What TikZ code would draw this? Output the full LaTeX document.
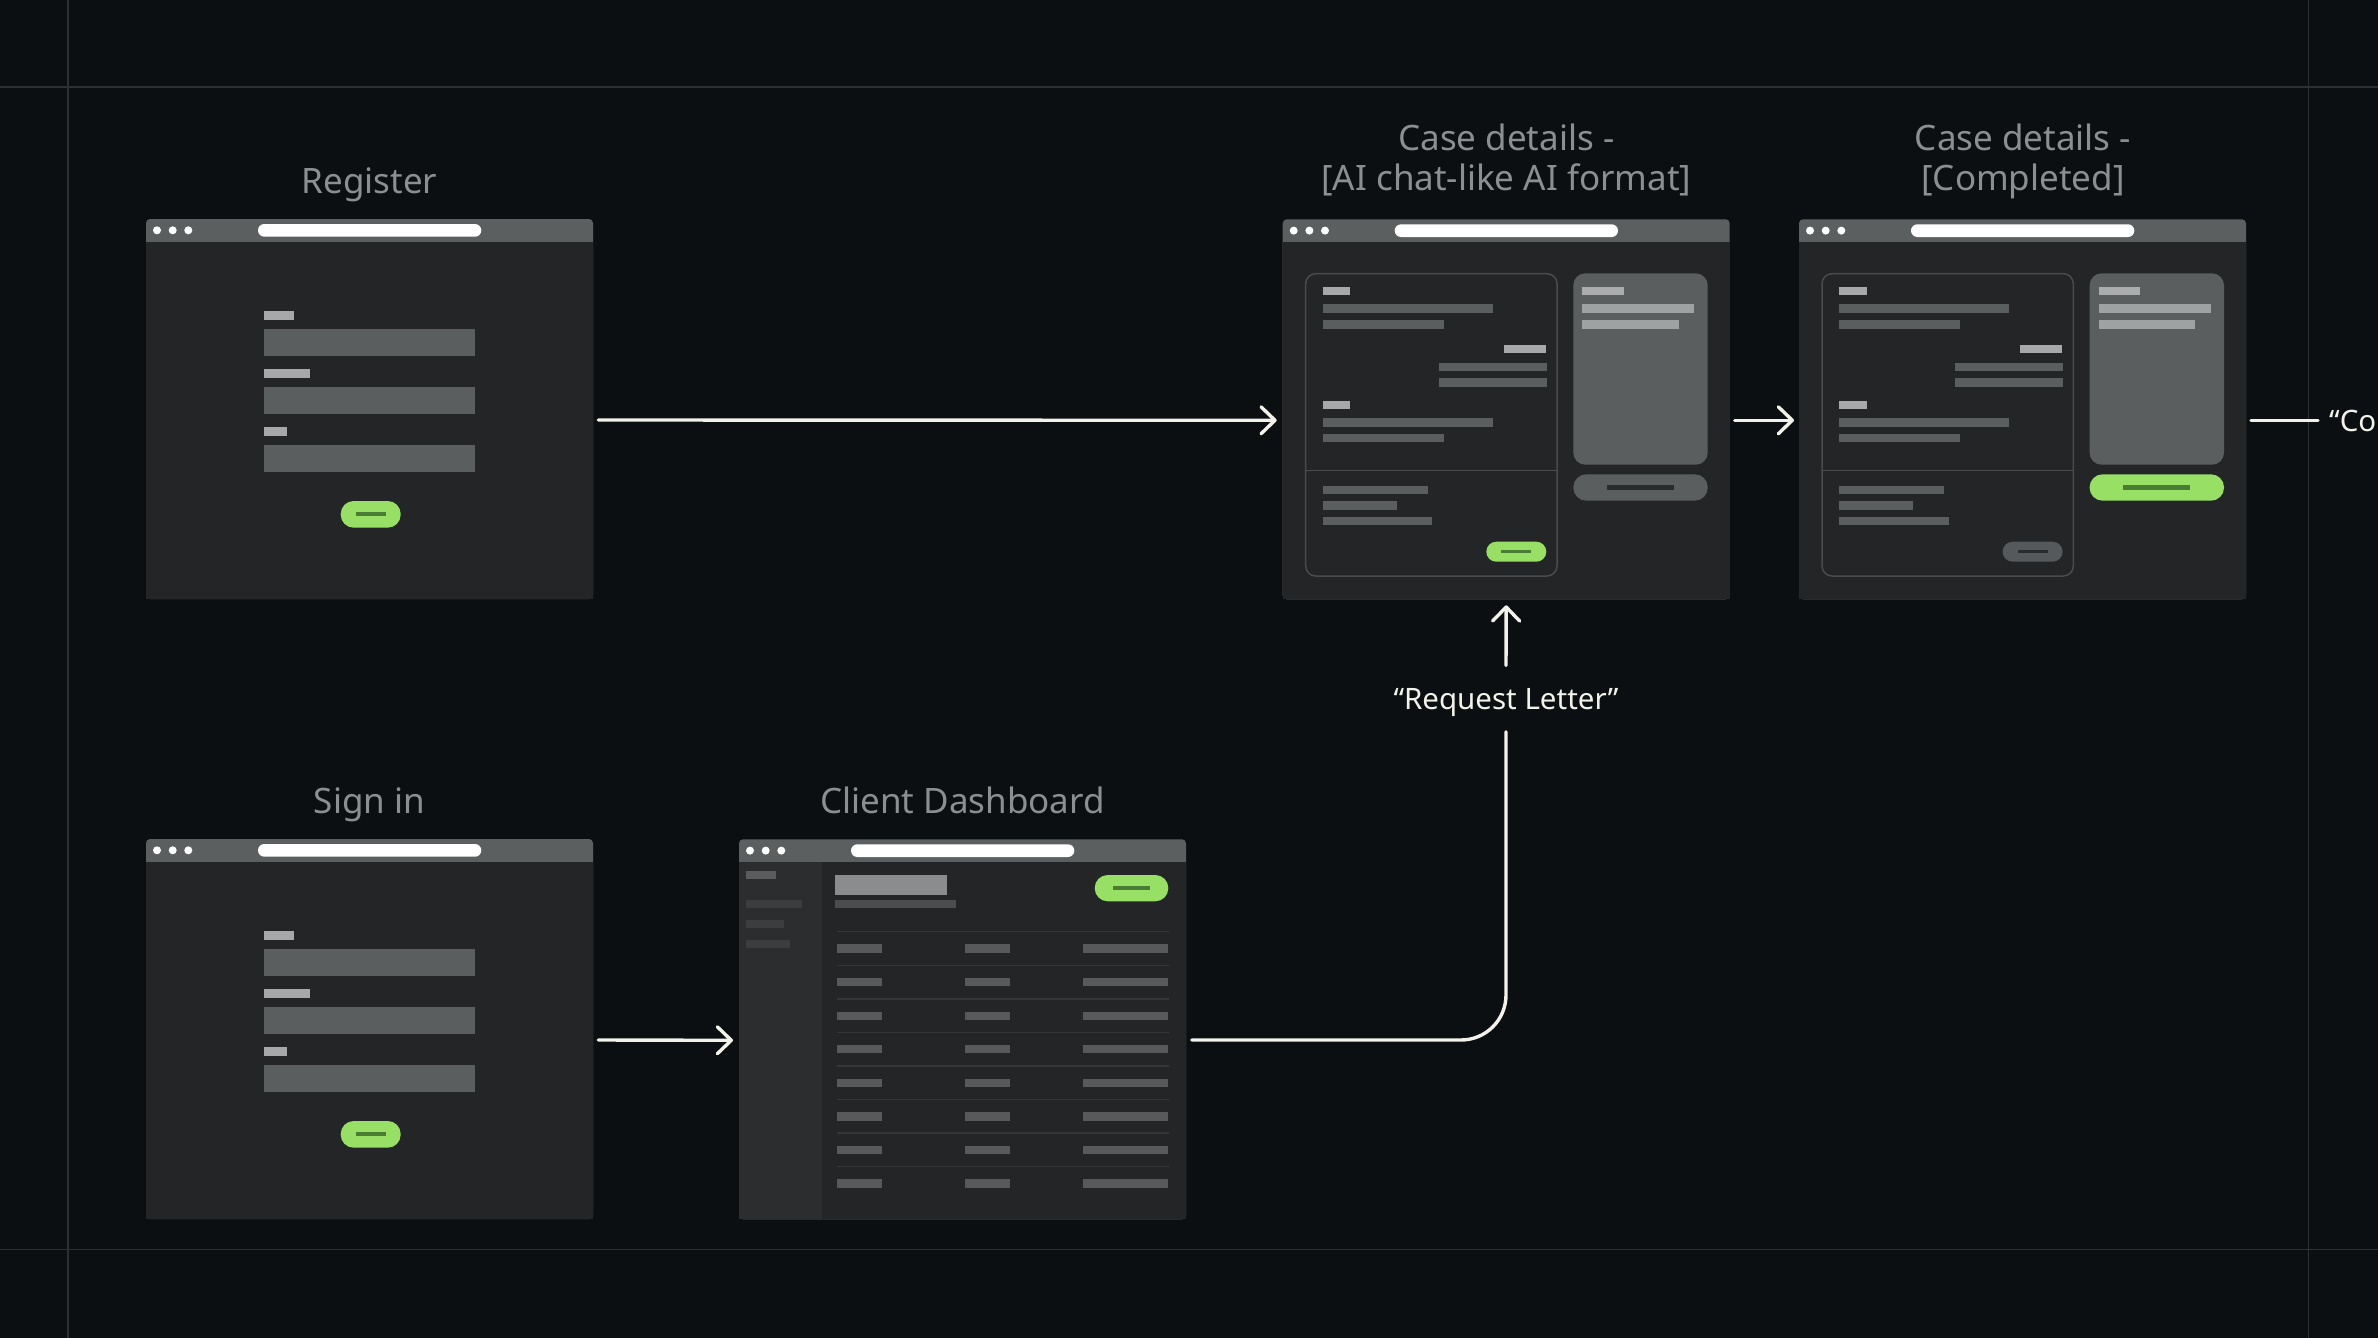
\documentclass[tikz,border=0pt]{standalone}
\usepackage{fontspec}
\setmainfont{Noto Sans}
\usetikzlibrary{arrows.meta,calc}
\definecolor{bg}{HTML}{0B0F12}
\definecolor{gridc}{HTML}{2D3033}
\definecolor{body}{HTML}{242527}
\definecolor{bar}{HTML}{5B5F60}
\definecolor{field}{HTML}{5A5E5F}
\definecolor{lab}{HTML}{A7A8AA}
\definecolor{grn}{HTML}{97E065}
\definecolor{grnd}{HTML}{4B7C33}
\definecolor{ttl}{HTML}{8C8F90}
\definecolor{wire}{HTML}{F2F2EA}
\definecolor{side}{HTML}{2C2D2F}
\definecolor{sideitem}{HTML}{3B3D3F}
\definecolor{sideitemA}{HTML}{5A5C5E}
\definecolor{sepc}{HTML}{343638}
\definecolor{cell}{HTML}{58595B}
\definecolor{headblk}{HTML}{8B8C8D}
\definecolor{subblk}{HTML}{4B4D4F}
\definecolor{cardln}{HTML}{4A4B4D}
\definecolor{panel}{HTML}{5A5E5F}
\definecolor{panlab}{HTML}{AAACAD}
\definecolor{panline}{HTML}{9FA2A3}
\definecolor{btnd}{HTML}{2A2B2D}
\definecolor{btng}{HTML}{56595B}

\tikzset{
  win/.style={anchor=north west, minimum width=447pt, minimum height=380pt,
    inner sep=0pt, outer sep=0pt, fill=bar, rounded corners=4pt},
  ttlfont/.style={text=ttl, font=\fontsize{35}{39.3}\selectfont, inner sep=0pt},
  conn/.style={draw=wire, line width=3.4pt, line cap=round},
  arr/.style={conn, -{Straight Barb[length=14pt,width=27pt,line cap=round,line join=round]}},
  gridln/.style={draw=gridc, line width=1.5pt},
}

\newcommand\bx[5]{\fill[#1] (#2,#3) rectangle (#4,#5);}

\newcommand\browser[3]{%
  \node[win] (#1) at (#2,#3) {};
  \begin{scope}[shift={(#2,#3)}]
    \fill[body] (0,22.5) rectangle (447,380);
    \foreach \dx in {11,26.7,42.3} \fill[white] (\dx,11.3) circle[radius=4pt];
    \fill[white, rounded corners=6.3pt] (112,5) rectangle (335.3,17.7);
  \end{scope}}

\newcommand\formcontent{%
  \bx{lab}{118.3}{92.3}{148.3}{100.7}
  \bx{field}{118.3}{110}{329}{136.7}
  \bx{lab}{118.3}{150}{163.7}{159}
  \bx{field}{118.3}{168}{329}{194.7}
  \bx{lab}{118.3}{208.3}{141}{217}
  \bx{field}{118.3}{226}{329}{252.7}
  \fill[grn, rounded corners=13pt] (194.7,282) rectangle (254.7,308.7);
  \bx{grnd}{209.7}{293.3}{239.7}{297.3}
}

\newcommand\dashcontent{%
  \fill[side] (0,22.5) rectangle (82.7,379.3);
  \bx{sideitemA}{6.7}{31.4}{36.7}{39.7}
  \bx{sideitem}{6.7}{60.7}{62.7}{69}
  \bx{sideitem}{6.7}{80.7}{45}{89}
  \bx{sideitem}{6.7}{100.7}{51.3}{109}
  \bx{headblk}{96}{35.7}{208}{55.4}
  \bx{subblk}{96}{60.7}{217}{68.7}
  \fill[grn, rounded corners=13pt] (355.7,35.7) rectangle (429.3,62);
  \bx{grnd}{373.7}{47}{411}{50.7}
  \foreach \i in {0,...,7} {
    \pgfmathsetmacro\sy{92.4+33.57*\i}
    \draw[sepc, line width=1.5pt] (97.7,\sy) -- (430.3,\sy);
    \pgfmathsetmacro\cy{\sy+16.8}
    \fill[cell] (98,\cy-4.15) rectangle (143.3,\cy+4.15);
    \fill[cell] (226,\cy-4.15) rectangle (271,\cy+4.15);
    \fill[cell] (344.3,\cy-4.15) rectangle (429.3,\cy+4.15);
  }
}

\newcommand\casecontent[4]{%
  \draw[cardln, line width=1.5pt, rounded corners=10pt] (23,54.4) rectangle (274.3,356.7);
  \draw[cardln, line width=1.5pt] (23,251.4) -- (274.3,251.4);
  \bx{lab}{40.3}{67.4}{67.6}{75.7}
  \bx{field}{40.3}{85}{210}{93.4}
  \bx{field}{40.3}{101}{161}{109.4}
  \bx{lab}{221.3}{125.4}{263}{133.7}
  \bx{field}{156.3}{143.4}{264}{151.7}
  \bx{field}{156.3}{159}{264}{167.4}
  \bx{lab}{40.3}{181.4}{67.6}{189.7}
  \bx{field}{40.3}{199}{210}{207.4}
  \bx{field}{40.3}{214.7}{161}{223}
  \bx{field}{40.3}{266.4}{145.3}{274.7}
  \bx{field}{40.3}{282}{114}{290.4}
  \bx{field}{40.3}{297.7}{149.6}{306}
  \fill[#1, rounded corners=10pt] (203.6,322.4) rectangle (263.6,342.4);
  \bx{#2}{218.6}{330.7}{248.6}{334}
  \fill[panel, rounded corners=12pt] (290.6,54) rectangle (425,245.4);
  \bx{panlab}{299.6}{67.4}{341}{75.7}
  \bx{panline}{299.6}{85}{411.6}{93.4}
  \bx{panline}{299.6}{100.7}{396}{109.4}
  \fill[#3, rounded corners=13pt] (290.6,255) rectangle (425,281.4);
  \bx{#4}{324.3}{266}{391}{270.4}
}

\begin{document}
\begin{tikzpicture}[x=1pt,y=-1pt]
  \useasboundingbox (0,0) rectangle (2378,1338);
  \clip (0,0) rectangle (2378,1338);
  \fill[bg] (0,0) rectangle (2378,1338);
  % frame lines
  \draw[gridln] (0,87) -- (2378,87);
  \draw[gridln] (0,1249.5) -- (2378,1249.5);
  \draw[gridln] (68,0) -- (68,1338);
  \draw[gridln] (2308.3,0) -- (2308.3,1338);

  % windows
  \browser{reg}{146}{219}
  \begin{scope}[shift={(146,219)}]\formcontent\end{scope}
  \browser{sign}{146}{839}
  \begin{scope}[shift={(146,839)}]\formcontent\end{scope}
  \browser{dash}{739}{839.3}
  \begin{scope}[shift={(739,839.3)}]\dashcontent\end{scope}
  \browser{caseai}{1282.7}{219.3}
  \begin{scope}[shift={(1282.7,219.3)}]\casecontent{grn}{grnd}{panel}{btnd}\end{scope}
  \browser{done}{1799}{219.3}
  \begin{scope}[shift={(1799,219.3)}]\casecontent{btng}{btnd}{grn}{grnd}\end{scope}

  % titles
  \node[ttlfont, anchor=base] (regt) at (369.5,193.3) {Register};
  \node[ttlfont, anchor=base] (signt) at (369.5,813.3) {Sign in};
  \node[ttlfont, anchor=base] (dasht) at (962.5,813.3) {Client Dashboard};
  \node[ttlfont, align=center, anchor=north] (ait) at (1506.3,124) {Case details -\\{}[AI chat-like AI format]};
  \node[ttlfont, align=center, anchor=north] (donet) at (2023,124) {Case details -\\{}[Completed]};

  % labels
  \node[text=wire, font=\fontsize{29.5}{35}\selectfont, inner sep=0pt,
        text height=43.6pt, text depth=22.4pt, anchor=base] (req) at (1506,709.3) {“Request Letter”};
  \node[text=wire, font=\fontsize{29.5}{35}\selectfont, inner sep=0pt, anchor=base west] (co) at (2329,431.5) {“Co};

  % connectors
  \draw[arr] ([shift={(5.3,11)}]reg.east) -- ([shift={(-6,11)}]caseai.west);
  \draw[arr] ([shift={(5,11)}]caseai.east) -- ([shift={(-5,11)}]done.west);
  \draw[arr] ([shift={(5.3,11)}]sign.east) -- ([shift={(-6,11)}]dash.west);
  \draw[conn, rounded corners=45pt] ([shift={(5.7,10.7)}]dash.east) -| (req.south);
  \draw[arr] (req.north) -- ([shift={(0,6)}]caseai.south);
  \draw[conn, shorten >=11pt] ([shift={(5,11)}]done.east) coordinate (cst) -- (cst -| co.west);
\end{tikzpicture}
\end{document}
